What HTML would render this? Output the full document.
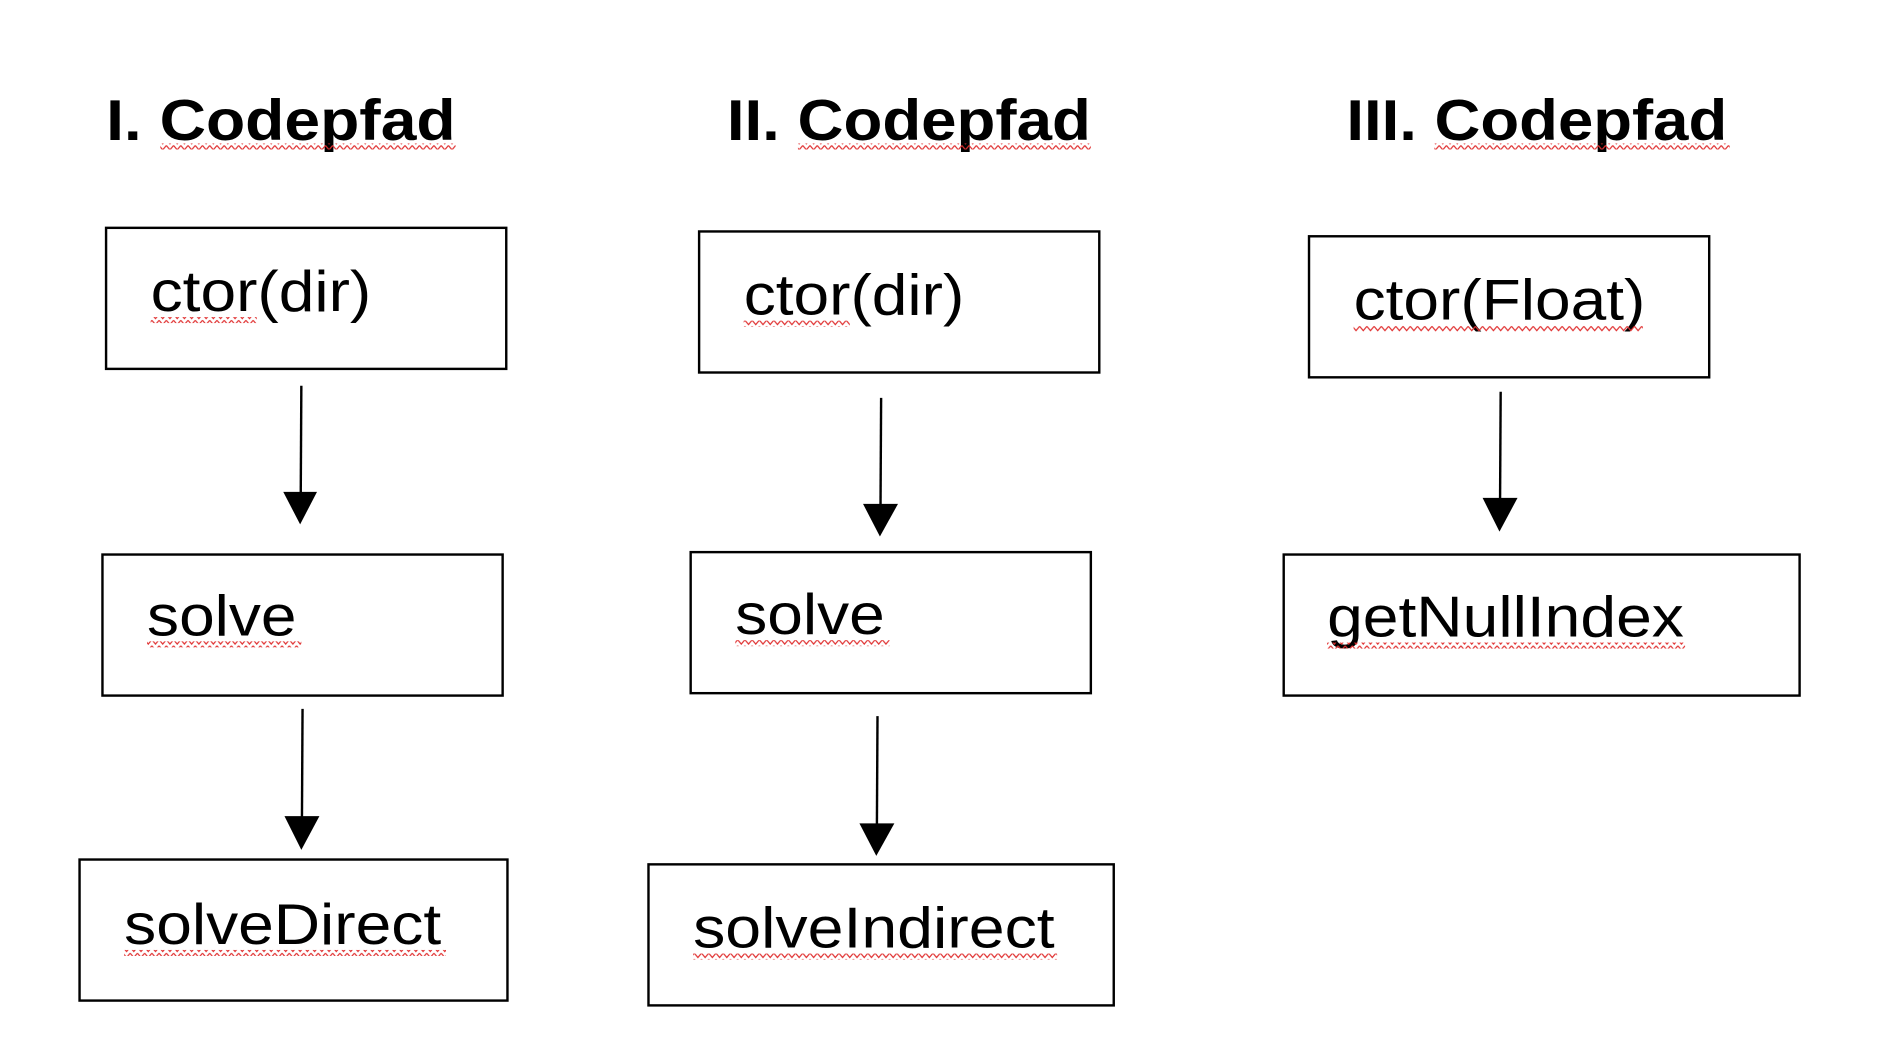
<!DOCTYPE html>
<html><head><meta charset="utf-8"><style>
html,body{margin:0;padding:0;background:#fff;width:1890px;height:1040px;overflow:hidden}
svg{display:block}
text{font-family:"Liberation Sans",Arial,sans-serif;fill:#000}
</style></head><body>
<svg width="1890" height="1040" viewBox="0 0 1568 862.7" preserveAspectRatio="none">
<defs>
<pattern id="w" width="6" height="5" patternUnits="userSpaceOnUse">
<polyline points="0,0.7 3,4.3 6,0.7" fill="none" stroke="#e03030" stroke-width="1"/>
</pattern>
</defs>
<g font-weight="bold" font-size="48">
<text x="88" y="116" textLength="290" lengthAdjust="spacingAndGlyphs">I. Codepfad</text>
<text x="603" y="116" textLength="302" lengthAdjust="spacingAndGlyphs">II. Codepfad</text>
<text x="1117" y="116" textLength="316" lengthAdjust="spacingAndGlyphs">III. Codepfad</text>
</g>
<rect x="133" y="119" width="245" height="5" fill="url(#w)"/>
<rect x="662" y="119" width="243" height="5" fill="url(#w)"/>
<rect x="1190" y="119" width="245" height="5" fill="url(#w)"/>
<g fill="none" stroke="#000" stroke-width="2">
<rect x="88" y="189" width="332" height="117"/>
<rect x="85" y="460" width="332" height="117"/>
<rect x="66" y="713" width="355" height="117"/>
<rect x="580" y="192" width="332" height="117"/>
<rect x="573" y="458" width="332" height="117"/>
<rect x="538" y="717" width="386" height="117"/>
<rect x="1086" y="196" width="332" height="117"/>
<rect x="1065" y="460" width="428" height="117"/>
<line x1="250" y1="320" x2="249.5" y2="410"/>
<line x1="251" y1="588" x2="250.5" y2="680"/>
<line x1="731" y1="330" x2="730.5" y2="420"/>
<line x1="728" y1="594" x2="727.5" y2="685"/>
<line x1="1245" y1="325" x2="1244.5" y2="415"/>
</g>
<g fill="#000">
<polygon points="235,408 263,408 249,435"/>
<polygon points="236,677 265,677 250,705"/>
<polygon points="716,418 745,418 730,445"/>
<polygon points="713,683 742,683 727,710"/>
<polygon points="1230,413 1259,413 1244,441"/>
</g>
<g font-size="48">
<text x="125" y="258" textLength="183" lengthAdjust="spacingAndGlyphs">ctor(dir)</text>
<text x="617" y="261" textLength="183" lengthAdjust="spacingAndGlyphs">ctor(dir)</text>
<text x="1123" y="265" textLength="242" lengthAdjust="spacingAndGlyphs">ctor(Float)</text>
<text x="122" y="527" textLength="124" lengthAdjust="spacingAndGlyphs">solve</text>
<text x="610" y="526" textLength="124" lengthAdjust="spacingAndGlyphs">solve</text>
<text x="1101" y="528" textLength="296" lengthAdjust="spacingAndGlyphs">getNullIndex</text>
<text x="103" y="783" textLength="263" lengthAdjust="spacingAndGlyphs">solveDirect</text>
<text x="575" y="786" textLength="300" lengthAdjust="spacingAndGlyphs">solveIndirect</text>
</g>
<rect x="125" y="263" width="88" height="5" fill="url(#w)"/>
<rect x="617" y="266" width="88" height="5" fill="url(#w)"/>
<rect x="1123" y="270" width="240" height="5" fill="url(#w)"/>
<rect x="122" y="532" width="128" height="5" fill="url(#w)"/>
<rect x="610" y="531" width="128" height="5" fill="url(#w)"/>
<rect x="1101" y="533" width="297" height="5" fill="url(#w)"/>
<rect x="103" y="788" width="267" height="5" fill="url(#w)"/>
<rect x="575" y="791" width="302" height="5" fill="url(#w)"/>
</svg>
</body></html>
